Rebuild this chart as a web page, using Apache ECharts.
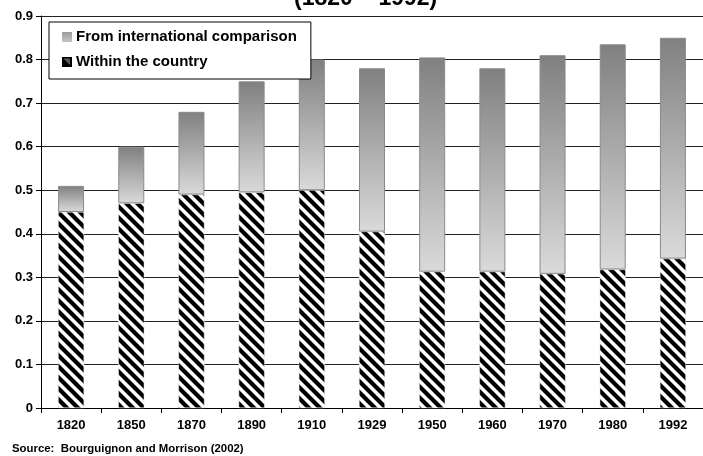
<!DOCTYPE html>
<html>
<head>
<meta charset="utf-8">
<script src="https://cdn.jsdelivr.net/npm/echarts@6/dist/echarts.min.js"></script>
<style>
  html, body { margin: 0; padding: 0; background: #fff; }
  #chart { width: 703px; height: 456px; }
</style>
</head>
<body>
<div id="chart"></div>
<script>
// Inequality decomposition by year (Theil-type index)
const years = ['1820', '1850', '1870', '1890', '1910', '1929', '1950', '1960', '1970', '1980', '1992'];
const withinCountry = [0.45, 0.47, 0.49, 0.495, 0.50, 0.405, 0.313, 0.313, 0.308, 0.318, 0.343];
const totalInequality = [0.51, 0.60, 0.68, 0.75, 0.80, 0.78, 0.805, 0.78, 0.81, 0.835, 0.85];
const yTicks = [0, 0.1, 0.2, 0.3, 0.4, 0.5, 0.6, 0.7, 0.8, 0.9];

const seriesNames = ['From international comparison', 'Within the country'];
const titleText = '(1820 – 1992)';
const sourceText = 'Source:  Bourguignon and Morrison (2002)';

const betweenCountries = totalInequality.map((t, i) => +(t - withinCountry[i]).toFixed(3));

const FONT = '"Liberation Sans", Arial, sans-serif';

// Diagonal black/white hatching for the within-country bars
function makeHatch() {
  const s = 11;
  const c = document.createElement('canvas');
  c.width = s; c.height = s;
  const g = c.getContext('2d');
  g.fillStyle = '#fff';
  g.fillRect(0, 0, s, s);
  g.strokeStyle = '#000';
  g.lineWidth = 4.2;
  for (let x0 = -s; x0 <= s; x0 += s) {
    g.beginPath();
    g.moveTo(x0 - 2, -2);
    g.lineTo(x0 + s + 2, s + 2);
    g.stroke();
  }
  return c;
}

// Legend swatches
function gradientIcon() {
  const c = document.createElement('canvas');
  c.width = 9; c.height = 9;
  const g = c.getContext('2d');
  const lg = g.createLinearGradient(0, 0, 0, 9);
  lg.addColorStop(0, '#9a9a9a');
  lg.addColorStop(1, '#c4c4c4');
  g.fillStyle = lg;
  g.fillRect(0, 0, 9, 9);
  return c.toDataURL();
}
function hatchIcon() {
  const c = document.createElement('canvas');
  c.width = 10; c.height = 10;
  const g = c.getContext('2d');
  g.fillStyle = '#fff';
  g.fillRect(0, 0, 10, 10);
  g.fillStyle = '#000';
  g.beginPath();
  g.moveTo(0, 0); g.lineTo(10, 10); g.lineTo(0, 10); g.closePath();
  g.fill();
  g.fillStyle = '#555';
  g.beginPath();
  g.moveTo(2, 2); g.lineTo(8, 2); g.lineTo(8, 8); g.closePath();
  g.fill();
  g.strokeStyle = '#000';
  g.lineWidth = 2;
  g.strokeRect(1, 1, 8, 8);
  return c.toDataURL();
}

const chart = echarts.init(document.getElementById('chart'), null, { renderer: 'canvas' });

chart.setOption({
  animation: false,
  backgroundColor: '#fff',
  textStyle: { fontFamily: FONT },
  title: {
    text: titleText,
    left: 289,
    top: -18,
    textStyle: { fontFamily: FONT, fontSize: 23, fontWeight: 'bold', color: '#000' }
  },
  graphic: [{
    type: 'text',
    left: 12,
    top: 443,
    style: { text: sourceText, font: 'bold 11.4px ' + FONT, fill: '#000' }
  }],
  legend: {
    orient: 'vertical',
    left: 49,
    top: 22,
    padding: [7, 14, 10, 13],
    itemGap: 10,
    itemWidth: 10,
    itemHeight: 10,
    backgroundColor: '#fff',
    borderColor: '#000',
    borderWidth: 1,
    borderRadius: 0,
    textStyle: { fontFamily: FONT, fontSize: 15, fontWeight: 'bold', color: '#000', padding: [0, 0, 0, -1] },
    data: [
      { name: seriesNames[0], icon: 'image://' + gradientIcon() },
      { name: seriesNames[1], icon: 'image://' + hatchIcon() }
    ]
  },
  grid: { left: 41, top: 16, width: 665, height: 392 },
  xAxis: {
    type: 'category',
    data: years,
    axisLine: { lineStyle: { color: '#000', width: 1 } },
    axisTick: { show: true, length: 5, lineStyle: { color: '#000' } },
    axisLabel: { fontFamily: FONT, fontSize: 13, fontWeight: 'bold', color: '#000', margin: 11 },
    splitLine: { show: false }
  },
  yAxis: {
    type: 'value',
    min: yTicks[0],
    max: yTicks[yTicks.length - 1],
    interval: 0.1,
    axisLine: { show: true, lineStyle: { color: '#000', width: 1 } },
    axisTick: { show: true, length: 5, lineStyle: { color: '#000' } },
    axisLabel: {
      fontFamily: FONT, fontSize: 13, fontWeight: 'bold', color: '#000', margin: 8,
      formatter: v => (v === 0 ? '0' : v.toFixed(1))
    },
    splitLine: { show: true, lineStyle: { color: '#222', width: 1 } }
  },
  series: [
    {
      name: seriesNames[1],
      type: 'bar',
      stack: 'total',
      barWidth: 26,
      data: withinCountry,
      itemStyle: {
        color: { image: makeHatch(), repeat: 'repeat' },
        borderColor: '#e8e8e8',
        borderWidth: 0.5
      },
      emphasis: { disabled: true }
    },
    {
      name: seriesNames[0],
      type: 'bar',
      stack: 'total',
      barWidth: 26,
      data: betweenCountries,
      itemStyle: {
        color: {
          type: 'linear', x: 0, y: 0, x2: 0, y2: 1,
          colorStops: [
            { offset: 0, color: '#808080' },
            { offset: 1, color: '#dadada' }
          ]
        },
        borderColor: '#8a8a8a',
        borderWidth: 1
      },
      emphasis: { disabled: true }
    }
  ]
});
</script>
</body>
</html>
